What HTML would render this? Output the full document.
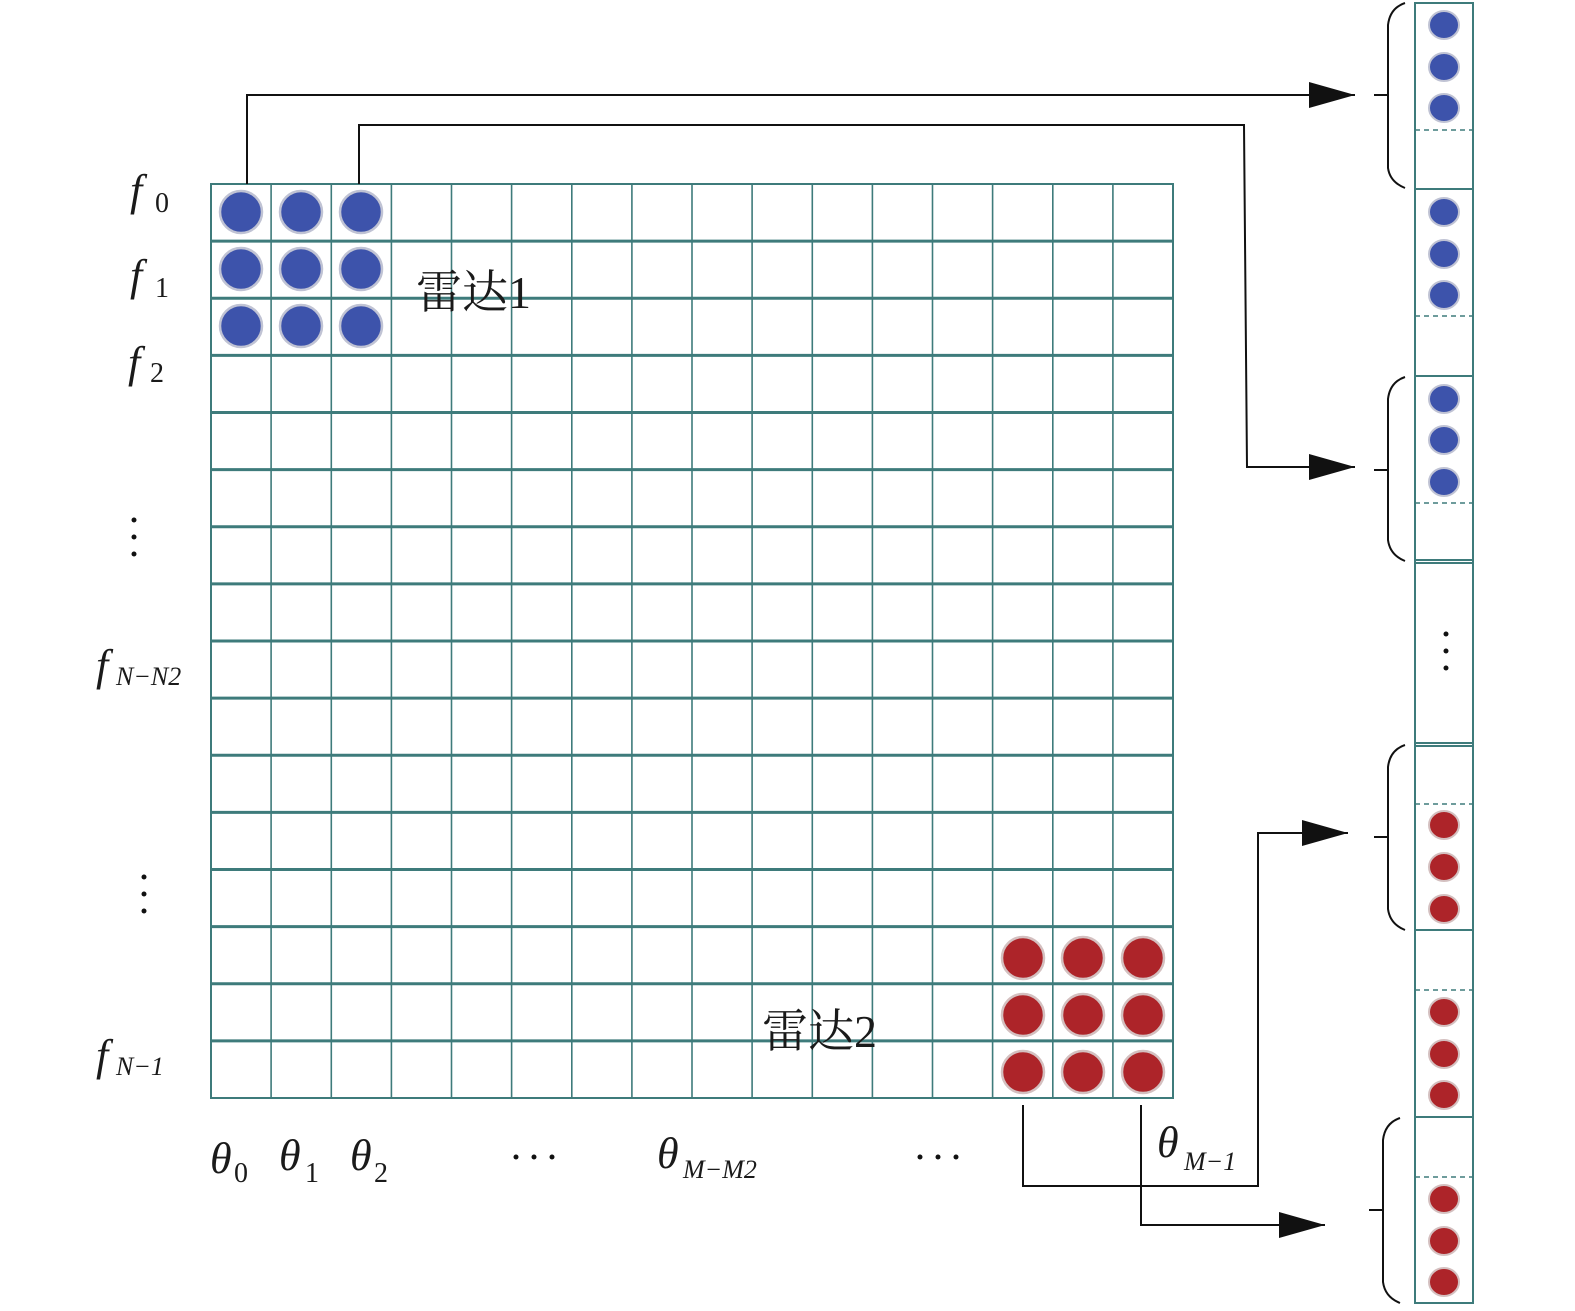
<!DOCTYPE html>
<html><head><meta charset="utf-8"><style>
html,body{margin:0;padding:0;background:#fff;}
svg{display:block}
text{font-family:"Liberation Serif","Noto Serif CJK SC",serif;fill:#1a1a1a}
</style></head><body>
<svg width="1575" height="1311" viewBox="0 0 1575 1311" xmlns="http://www.w3.org/2000/svg">
<defs>
<marker id="ah" markerWidth="46" markerHeight="26" refX="46" refY="13" orient="auto" markerUnits="userSpaceOnUse">
<path d="M0,0 L46,13 L0,26 Z" fill="#111"/></marker>
</defs>
<g stroke="#3e7b7b" fill="none">
<rect x="211" y="184" width="962" height="914" stroke-width="2"/>
<g stroke-width="1.6">
<line x1="271.1" y1="184" x2="271.1" y2="1098"/><line x1="331.3" y1="184" x2="331.3" y2="1098"/>
<line x1="391.4" y1="184" x2="391.4" y2="1098"/><line x1="451.5" y1="184" x2="451.5" y2="1098"/>
<line x1="511.6" y1="184" x2="511.6" y2="1098"/><line x1="571.8" y1="184" x2="571.8" y2="1098"/>
<line x1="631.9" y1="184" x2="631.9" y2="1098"/><line x1="692" y1="184" x2="692" y2="1098"/>
<line x1="752.1" y1="184" x2="752.1" y2="1098"/><line x1="812.3" y1="184" x2="812.3" y2="1098"/>
<line x1="872.4" y1="184" x2="872.4" y2="1098"/><line x1="932.5" y1="184" x2="932.5" y2="1098"/>
<line x1="992.6" y1="184" x2="992.6" y2="1098"/><line x1="1052.8" y1="184" x2="1052.8" y2="1098"/>
<line x1="1112.9" y1="184" x2="1112.9" y2="1098"/>
</g>
<g stroke-width="3">
<line x1="211" y1="241.1" x2="1173" y2="241.1"/><line x1="211" y1="298.3" x2="1173" y2="298.3"/>
<line x1="211" y1="355.4" x2="1173" y2="355.4"/><line x1="211" y1="412.5" x2="1173" y2="412.5"/>
<line x1="211" y1="469.6" x2="1173" y2="469.6"/><line x1="211" y1="526.8" x2="1173" y2="526.8"/>
<line x1="211" y1="583.9" x2="1173" y2="583.9"/><line x1="211" y1="641" x2="1173" y2="641"/>
<line x1="211" y1="698.1" x2="1173" y2="698.1"/><line x1="211" y1="755.3" x2="1173" y2="755.3"/>
<line x1="211" y1="812.4" x2="1173" y2="812.4"/><line x1="211" y1="869.5" x2="1173" y2="869.5"/>
<line x1="211" y1="926.6" x2="1173" y2="926.6"/><line x1="211" y1="983.8" x2="1173" y2="983.8"/>
<line x1="211" y1="1040.9" x2="1173" y2="1040.9"/>
</g>
</g>
<g fill="#3d53ab" stroke="#c0c3d4" stroke-width="2.5">
<circle cx="241" cy="212" r="21"/><circle cx="301" cy="212" r="21"/><circle cx="361" cy="212" r="21"/>
<circle cx="241" cy="269" r="21"/><circle cx="301" cy="269" r="21"/><circle cx="361" cy="269" r="21"/>
<circle cx="241" cy="326" r="21"/><circle cx="301" cy="326" r="21"/><circle cx="361" cy="326" r="21"/>
</g>
<g fill="#ad2429" stroke="#d4c0c0" stroke-width="2.5">
<circle cx="1023" cy="958" r="21"/><circle cx="1083" cy="958" r="21"/><circle cx="1143" cy="958" r="21"/>
<circle cx="1023" cy="1015" r="21"/><circle cx="1083" cy="1015" r="21"/><circle cx="1143" cy="1015" r="21"/>
<circle cx="1023" cy="1072" r="21"/><circle cx="1083" cy="1072" r="21"/><circle cx="1143" cy="1072" r="21"/>
</g>
<text x="416" y="308" font-size="46">雷达1</text>
<text x="762" y="1047" font-size="46">雷达2</text>
<!-- connectors -->
<g stroke="#111" stroke-width="2" fill="none">
<polyline points="247,184 247,95 1355,95" marker-end="url(#ah)"/>
<polyline points="359,184 359,125 1244,125 1247,467 1355,467" marker-end="url(#ah)"/>
<polyline points="1023,1105 1023,1186 1258,1186 1258,833 1348,833" marker-end="url(#ah)"/>
<polyline points="1141,1105 1141,1225 1325,1225" marker-end="url(#ah)"/>
</g>
<!-- left labels -->
<g font-style="italic" font-size="44">
<text x="130" y="205">f</text><text x="130" y="290">f</text><text x="128" y="377">f</text>
<text x="96" y="680">f</text><text x="96" y="1070">f</text>
</g>
<g font-size="28">
<text x="155" y="212">0</text><text x="155" y="297">1</text><text x="150" y="382">2</text>
</g>
<g font-size="26" font-style="italic">
<text x="116" y="685">N−N2</text><text x="116" y="1075">N−1</text>
</g>
<g fill="#111"><circle cx="134" cy="520" r="2.5"/><circle cx="134" cy="537" r="2.5"/><circle cx="134" cy="554" r="2.5"/>
<circle cx="144" cy="877" r="2.5"/><circle cx="144" cy="894" r="2.5"/><circle cx="144" cy="911" r="2.5"/>
<circle cx="1446" cy="634" r="2.5"/><circle cx="1446" cy="651" r="2.5"/><circle cx="1446" cy="668" r="2.5"/>
<circle cx="516" cy="1157" r="2.5"/><circle cx="534" cy="1157" r="2.5"/><circle cx="552" cy="1157" r="2.5"/>
<circle cx="920" cy="1157" r="2.5"/><circle cx="938" cy="1157" r="2.5"/><circle cx="956" cy="1157" r="2.5"/>
</g>
<g font-style="italic" font-size="44">
<text x="210" y="1173">θ</text><text x="279" y="1170">θ</text><text x="350" y="1170">θ</text>
<text x="657" y="1168">θ</text><text x="1157" y="1157">θ</text>
</g>
<g font-size="28"><text x="234" y="1182">0</text><text x="305" y="1182">1</text><text x="374" y="1182">2</text></g>
<g font-size="26" font-style="italic"><text x="683" y="1178">M−M2</text><text x="1184" y="1170">M−1</text></g>
<!-- right column -->
<g stroke="#3e7b7b" fill="none">
<rect x="1415" y="3" width="58" height="1300" stroke-width="2"/>
<g stroke-width="2">
<line x1="1415" y1="189" x2="1473" y2="189"/><line x1="1415" y1="376" x2="1473" y2="376"/>
<line x1="1415" y1="560" x2="1473" y2="560"/><line x1="1415" y1="563" x2="1473" y2="563"/>
<line x1="1415" y1="743" x2="1473" y2="743"/><line x1="1415" y1="746" x2="1473" y2="746"/>
<line x1="1415" y1="930" x2="1473" y2="930"/><line x1="1415" y1="1117" x2="1473" y2="1117"/>
</g>
<g stroke-width="1.5" stroke-dasharray="5,4">
<line x1="1415" y1="130" x2="1473" y2="130"/><line x1="1415" y1="316" x2="1473" y2="316"/>
<line x1="1415" y1="503" x2="1473" y2="503"/><line x1="1415" y1="804" x2="1473" y2="804"/>
<line x1="1415" y1="990" x2="1473" y2="990"/><line x1="1415" y1="1177" x2="1473" y2="1177"/>
</g>
</g>
<g fill="#3d53ab" stroke="#c0c3d4" stroke-width="2">
<ellipse cx="1444" cy="25" rx="15" ry="14"/><ellipse cx="1444" cy="67" rx="15" ry="14"/><ellipse cx="1444" cy="108" rx="15" ry="14"/>
<ellipse cx="1444" cy="212" rx="15" ry="14"/><ellipse cx="1444" cy="254" rx="15" ry="14"/><ellipse cx="1444" cy="295" rx="15" ry="14"/>
<ellipse cx="1444" cy="399" rx="15" ry="14"/><ellipse cx="1444" cy="440" rx="15" ry="14"/><ellipse cx="1444" cy="482" rx="15" ry="14"/>
</g>
<g fill="#ad2429" stroke="#d4c0c0" stroke-width="2">
<ellipse cx="1444" cy="825" rx="15" ry="14"/><ellipse cx="1444" cy="867" rx="15" ry="14"/><ellipse cx="1444" cy="909" rx="15" ry="14"/>
<ellipse cx="1444" cy="1012" rx="15" ry="14"/><ellipse cx="1444" cy="1054" rx="15" ry="14"/><ellipse cx="1444" cy="1095" rx="15" ry="14"/>
<ellipse cx="1444" cy="1199" rx="15" ry="14"/><ellipse cx="1444" cy="1241" rx="15" ry="14"/><ellipse cx="1444" cy="1282" rx="15" ry="14"/>
</g>
<!-- braces -->
<g stroke="#111" stroke-width="2" fill="none">
<path d="M1405,3 Q1390,8 1388,25 L1388,168 Q1390,182 1405,188"/><line x1="1374" y1="95" x2="1388" y2="95"/>
<path d="M1405,377 Q1390,382 1388,399 L1388,540 Q1390,555 1405,561"/><line x1="1374" y1="470" x2="1388" y2="470"/>
<path d="M1405,745 Q1390,750 1388,767 L1388,909 Q1390,924 1405,930"/><line x1="1374" y1="837" x2="1388" y2="837"/>
<path d="M1400,1118 Q1385,1123 1383,1140 L1383,1282 Q1385,1297 1400,1303"/><line x1="1369" y1="1210" x2="1383" y2="1210"/>
</g>
</svg>
</body></html>
